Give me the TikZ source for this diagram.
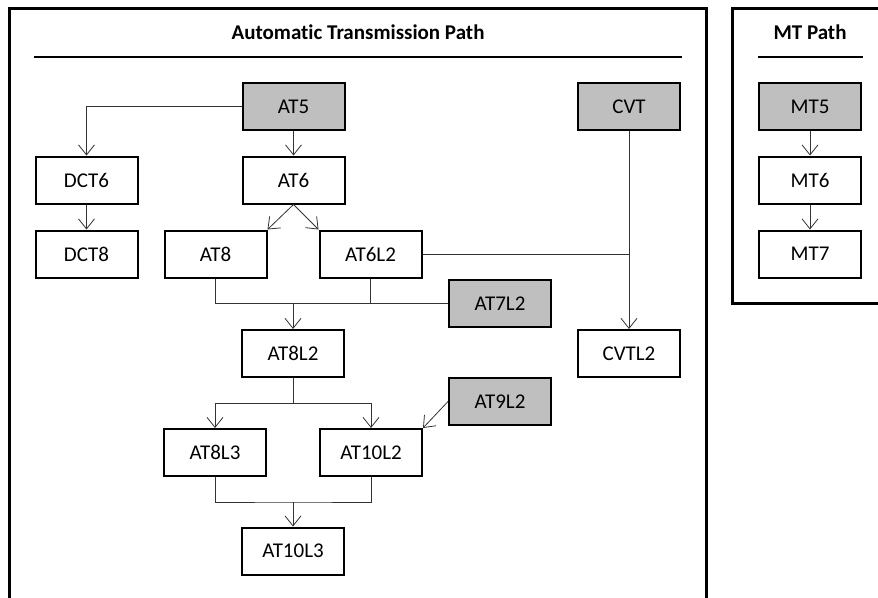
\documentclass[tikz,border=0pt]{standalone}
\usepackage{fontspec}
\setmainfont{Carlito}[Ligatures=NoCommon]
\usetikzlibrary{arrows.meta}

\begin{document}
\begin{tikzpicture}[x=1pt,y=-1pt,>={Straight Barb[length=10pt,width=16pt]},
	gray_node/.style={rectangle,draw,line width=2pt,fill=black!25,minimum width=102pt,minimum height=47pt,inner sep=0pt,font=\fontsize{21}{24}\selectfont},
	white_node/.style={gray_node,fill=white},
	title_node/.style={font=\fontsize{21}{24}\selectfont\bfseries},
	link/.style={draw=black!80,line width=0.8pt}]

		\useasboundingbox (0,0) rectangle (878,597);
		\clip (0,0) rectangle (878,597);

		\draw[line width=3pt] (9,8) rectangle (706,640);
		\draw[line width=3pt] (732,8) rectangle (920,303);

		\node[title_node] (at_title) at (358,32) {Automatic Transmission Path};
		\node[title_node] (mt_title) at (810,32) {MT Path};
		\draw[line width=2pt] (34,57) -- (682,57);
		\draw[line width=2pt] (758,57) -- (863,57);

		\node[gray_node] (AT5) at (293.5,106.5) {AT5};
		\node[white_node] (AT6) at (293.5,180) {AT6};
		\node[white_node] (DCT6) at (86.5,180) {DCT6};
		\node[white_node] (DCT8) at (86.5,254) {DCT8};
		\node[white_node] (AT8) at (215.5,254) {AT8};
		\node[white_node] (AT6L2) at (370.5,254) {AT6L2};
		\node[gray_node] (CVT) at (629,106.5) {CVT};
		\node[gray_node] (AT7L2) at (500,303.5) {AT7L2};
		\node[white_node] (CVTL2) at (629,353.5) {CVTL2};
		\node[white_node] (AT8L2) at (293,353.5) {AT8L2};
		\node[gray_node] (AT9L2) at (500,401.5) {AT9L2};
		\node[white_node] (AT8L3) at (215,452.5) {AT8L3};
		\node[white_node] (AT10L2) at (371,452.5) {AT10L2};
		\node[white_node] (AT10L3) at (293,551) {AT10L3};
		\node[gray_node] (MT5) at (810,106.5) {MT5};
		\node[white_node] (MT6) at (810,180) {MT6};
		\node[white_node] (MT7) at (810,254) {MT7};

		\coordinate (join1) at (AT8L2.north |- AT7L2.west);
		\coordinate (split1) at (293,403);
		\coordinate (join2) at (293,502);

		\draw[link,->] (AT5.west) -| (DCT6.north);
		\draw[link,->] (AT5) -- (AT6);
		\draw[link,->] (DCT6) -- (DCT8);
		\draw[link,->] (AT6.south) -- (AT8.north east);
		\draw[link,->] (AT6.south) -- (AT6L2.north west);
		\draw[link] (AT8.south) |- (AT7L2.west);
		\draw[link] (AT6L2.south) -- (AT6L2.south |- AT7L2.west);
		\draw[link,->] (join1) -- (AT8L2.north);
		\draw[link] (AT6L2.east) -| (CVT.south);
		\draw[link,->] (CVT) -- (CVTL2);
		\draw[link] (AT8L2) -- (split1);
		\draw[link,->] (split1) -| (AT8L3.north);
		\draw[link,->] (split1) -| (AT10L2.north);
		\draw[link,->] (AT9L2.west) -- (AT10L2.north east);
		\draw[link] (AT8L3.south) |- (join2) -| (AT10L2.south);
		\draw[link,->] (join2) -- (AT10L3);
		\draw[link,->] (MT5) -- (MT6);
		\draw[link,->] (MT6) -- (MT7);
\end{tikzpicture}
\end{document}
